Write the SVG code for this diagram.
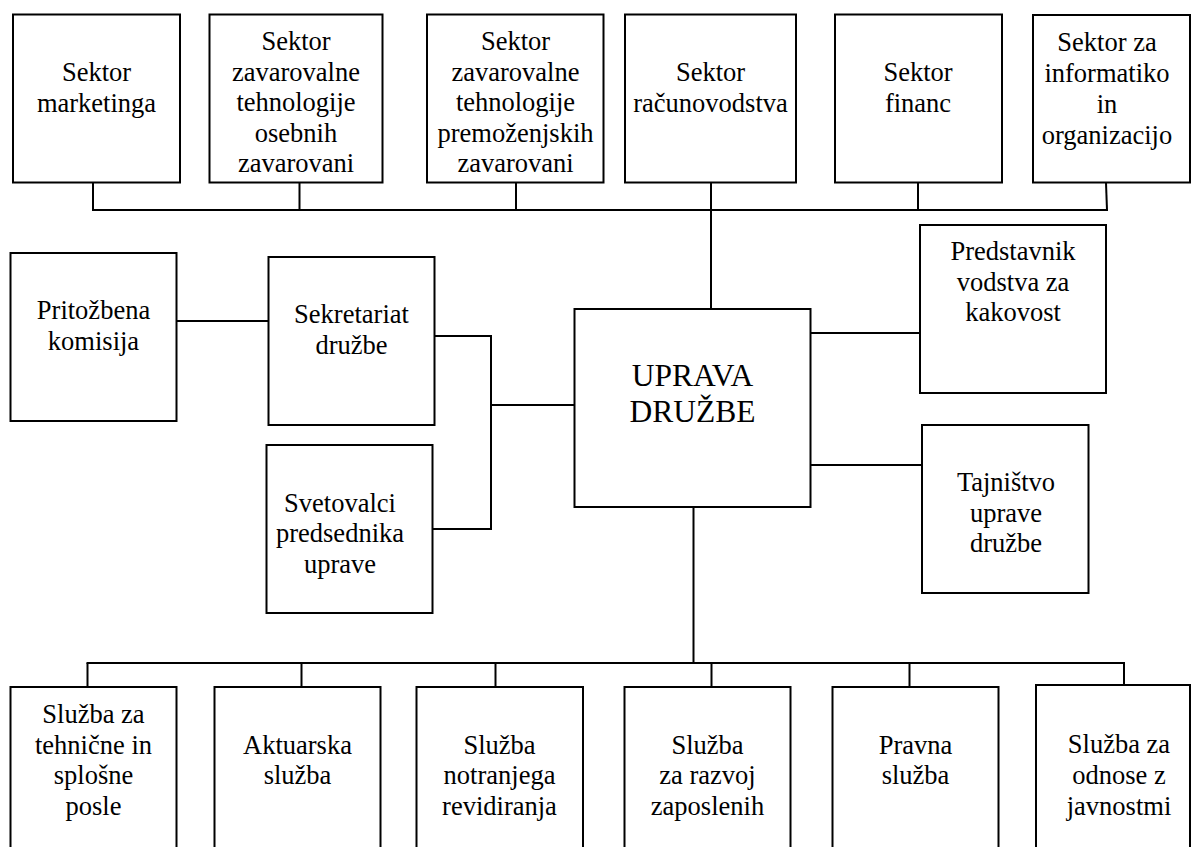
<svg xmlns="http://www.w3.org/2000/svg" width="1192" height="847" viewBox="0 0 1192 847">
<style>
.box{fill:#fff;stroke:#000;stroke-width:2}
.ln{fill:none;stroke:#000;stroke-width:2}
.t{font-family:Liberation Serif,Times New Roman,Times,Tinos,serif;font-size:26.5px;text-anchor:middle;fill:#000}
.big{font-size:31.5px}
</style>
<rect width="1192" height="847" fill="#fff"/>
<g id="connectors">
<polyline class="ln" points="93,183 93,210"/>
<polyline class="ln" points="299.5,183 299.5,210"/>
<polyline class="ln" points="516,183 516,210"/>
<polyline class="ln" points="711,183 711,309"/>
<polyline class="ln" points="918,183 918,210"/>
<polyline class="ln" points="1106,183 1107,210"/>
<line class="ln" x1="92" y1="210" x2="1108" y2="210"/>
<line class="ln" x1="177" y1="321" x2="268" y2="321"/>
<polyline class="ln" points="435,336 491,336 491,529 433,529"/>
<line class="ln" x1="491" y1="405" x2="574" y2="405"/>
<line class="ln" x1="811" y1="333" x2="920" y2="333"/>
<line class="ln" x1="811" y1="465" x2="922" y2="465"/>
<line class="ln" x1="693.5" y1="507" x2="693.5" y2="663"/>
<line class="ln" x1="86.5" y1="663" x2="1125" y2="663"/>
<line class="ln" x1="87.5" y1="663" x2="87.5" y2="687"/>
<line class="ln" x1="301.5" y1="663" x2="301.5" y2="687"/>
<line class="ln" x1="495.5" y1="663" x2="495.5" y2="687"/>
<line class="ln" x1="711.5" y1="663" x2="711.5" y2="687"/>
<line class="ln" x1="909.5" y1="663" x2="909.5" y2="687"/>
<line class="ln" x1="1124" y1="663" x2="1124" y2="685"/>
</g>
<g id="sektor-marketinga">
<rect class="box" x="13" y="14.5" width="167" height="168"/>
<text class="t"><tspan x="96.5" y="81">Sektor</tspan><tspan x="96.5" y="112">marketinga</tspan></text>
</g>
<g id="sektor-osebnih">
<rect class="box" x="209.5" y="14.5" width="173" height="168"/>
<text class="t"><tspan x="296" y="50">Sektor</tspan><tspan x="296" y="80.5">zavarovalne</tspan><tspan x="296" y="111">tehnologije</tspan><tspan x="296" y="141.5">osebnih</tspan><tspan x="296" y="172">zavarovani</tspan></text>
</g>
<g id="sektor-premozenjskih">
<rect class="box" x="427" y="14.5" width="176.5" height="168"/>
<text class="t"><tspan x="515.5" y="50">Sektor</tspan><tspan x="515.5" y="80.5">zavarovalne</tspan><tspan x="515.5" y="111">tehnologije</tspan><tspan x="515.5" y="141.5">premoženjskih</tspan><tspan x="515.5" y="172">zavarovani</tspan></text>
</g>
<g id="sektor-racunovodstva">
<rect class="box" x="625" y="14.5" width="171" height="168"/>
<text class="t"><tspan x="710.5" y="81">Sektor</tspan><tspan x="710.5" y="112">računovodstva</tspan></text>
</g>
<g id="sektor-financ">
<rect class="box" x="835" y="14.5" width="167" height="168"/>
<text class="t"><tspan x="918" y="81">Sektor</tspan><tspan x="918" y="112">financ</tspan></text>
</g>
<g id="sektor-informatiko">
<rect class="box" x="1033" y="15" width="157" height="167.5"/>
<text class="t"><tspan x="1107" y="51">Sektor za</tspan><tspan x="1107" y="82">informatiko</tspan><tspan x="1107" y="113">in</tspan><tspan x="1107" y="144">organizacijo</tspan></text>
</g>
<g id="pritozbena-komisija">
<rect class="box" x="10.5" y="253" width="166" height="168"/>
<text class="t"><tspan x="93.5" y="319">Pritožbena</tspan><tspan x="93.5" y="349.5">komisija</tspan></text>
</g>
<g id="sekretariat-druzbe">
<rect class="box" x="268.5" y="257" width="166" height="168"/>
<text class="t"><tspan x="351.5" y="323">Sekretariat</tspan><tspan x="351.5" y="354">družbe</tspan></text>
</g>
<g id="svetovalci">
<rect class="box" x="266.5" y="445" width="166" height="168"/>
<text class="t"><tspan x="340" y="511.5">Svetovalci</tspan><tspan x="340" y="542">predsednika</tspan><tspan x="340" y="572.5">uprave</tspan></text>
</g>
<g id="uprava-druzbe">
<rect class="box" x="574.5" y="309" width="236" height="198"/>
<text class="t big"><tspan x="692.5" y="386">UPRAVA</tspan><tspan x="692.5" y="422">DRUŽBE</tspan></text>
</g>
<g id="predstavnik">
<rect class="box" x="920" y="225" width="186" height="168"/>
<text class="t"><tspan x="1013" y="260">Predstavnik</tspan><tspan x="1013" y="290.5">vodstva za</tspan><tspan x="1013" y="321">kakovost</tspan></text>
</g>
<g id="tajnistvo">
<rect class="box" x="922" y="425" width="166.5" height="168"/>
<text class="t"><tspan x="1006" y="491">Tajništvo</tspan><tspan x="1006" y="521.5">uprave</tspan><tspan x="1006" y="552">družbe</tspan></text>
</g>
<g id="sluzba-tehnicne">
<rect class="box" x="10.5" y="687" width="166" height="180"/>
<text class="t"><tspan x="93.5" y="723">Služba za</tspan><tspan x="93.5" y="753.5">tehnične in</tspan><tspan x="93.5" y="784">splošne</tspan><tspan x="93.5" y="814.5">posle</tspan></text>
</g>
<g id="aktuarska">
<rect class="box" x="214.5" y="687" width="166" height="180"/>
<text class="t"><tspan x="297.5" y="753.5">Aktuarska</tspan><tspan x="297.5" y="784">služba</tspan></text>
</g>
<g id="notranjega-revidiranja">
<rect class="box" x="416.5" y="687" width="166.5" height="180"/>
<text class="t"><tspan x="499.5" y="753.5">Služba</tspan><tspan x="499.5" y="784">notranjega</tspan><tspan x="499.5" y="814.5">revidiranja</tspan></text>
</g>
<g id="razvoj-zaposlenih">
<rect class="box" x="624.5" y="687" width="166" height="180"/>
<text class="t"><tspan x="707.5" y="753.5">Služba</tspan><tspan x="707.5" y="784">za razvoj</tspan><tspan x="707.5" y="814.5">zaposlenih</tspan></text>
</g>
<g id="pravna">
<rect class="box" x="832.5" y="687" width="166" height="180"/>
<text class="t"><tspan x="915.5" y="753.5">Pravna</tspan><tspan x="915.5" y="784">služba</tspan></text>
</g>
<g id="odnosi-javnost">
<rect class="box" x="1036" y="685" width="154" height="182"/>
<text class="t"><tspan x="1119" y="753">Služba za</tspan><tspan x="1119" y="784">odnose z</tspan><tspan x="1119" y="815">javnostmi</tspan></text>
</g>
</svg>
